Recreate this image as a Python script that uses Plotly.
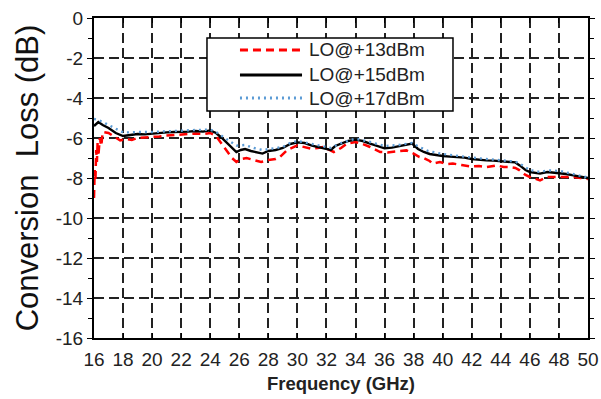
import plotly.graph_objects as go

# Data
f13 = [16.0, 16.05, 16.1, 16.15, 16.2, 16.25, 16.3, 16.4, 16.5, 16.6, 17.0, 17.4, 17.8, 18.2, 18.6, 19.0, 19.5, 20.0, 20.5, 21.0, 21.5, 22.0, 22.5, 23.0, 23.5, 24.0, 24.4, 24.8, 25.2, 25.5, 25.8, 26.1, 26.5, 27.0, 27.5, 28.0, 28.5, 28.8, 29.3, 30.0, 30.5, 30.9, 31.4, 31.8, 32.2, 32.5, 33.0, 33.4, 34.0, 34.5, 35.0, 35.7, 36.2, 36.6, 37.1, 37.5, 38.0, 38.4, 38.7, 39.1, 39.3, 39.8, 40.3, 40.7, 41.3, 41.9, 42.5, 43.0, 43.7, 44.2, 44.6, 45.0, 45.3, 45.7, 46.0, 46.4, 46.7, 47.2, 47.6, 48.1, 48.6, 49.0, 49.5, 50.0]
cl13 = [-9.0, -7.6, -8.1, -6.6, -7.2, -6.2, -6.9, -6.0, -6.4, -5.7, -5.75, -5.95, -6.12, -6.05, -6.1, -6.0, -5.98, -5.95, -5.92, -5.88, -5.85, -5.8, -5.8, -5.78, -5.8, -5.75, -5.9, -6.3, -6.7, -7.0, -7.2, -7.05, -7.0, -7.1, -7.2, -7.1, -7.05, -6.95, -6.6, -6.37, -6.45, -6.53, -6.5, -6.45, -6.6, -6.7, -6.5, -6.28, -6.2, -6.3, -6.45, -6.7, -6.72, -6.7, -6.65, -6.62, -6.78, -6.95, -7.0, -7.15, -7.28, -7.2, -7.3, -7.28, -7.35, -7.42, -7.4, -7.45, -7.37, -7.45, -7.45, -7.5, -7.62, -7.85, -7.95, -8.05, -8.12, -7.95, -7.95, -7.92, -7.95, -7.95, -8.0, -8.05]

f15 = [16.0, 16.3, 16.6, 17.0, 17.5, 18.0, 18.5, 19.0, 19.5, 20.0, 20.5, 21.0, 21.5, 22.0, 22.5, 23.0, 23.5, 24.0, 24.4, 24.8, 25.1, 25.5, 25.8, 26.1, 26.4, 26.8, 27.2, 27.6, 28.0, 28.5, 29.0, 29.5, 30.0, 30.5, 31.0, 31.5, 32.0, 32.3, 32.6, 33.0, 33.5, 34.0, 34.5, 35.0, 35.5, 36.0, 36.5, 37.0, 37.5, 37.9, 38.3, 38.7, 39.1, 39.5, 40.0, 40.5, 41.0, 41.5, 42.0, 42.5, 43.0, 43.5, 44.0, 44.5, 45.0, 45.3, 45.7, 46.0, 46.4, 46.7, 47.2, 47.6, 48.1, 48.5, 49.0, 49.5, 50.0]
cl15 = [-5.4, -5.2, -5.35, -5.5, -5.75, -5.9, -5.85, -5.8, -5.82, -5.78, -5.75, -5.72, -5.7, -5.7, -5.68, -5.65, -5.68, -5.62, -5.75, -6.0, -6.2, -6.5, -6.7, -6.6, -6.55, -6.65, -6.7, -6.78, -6.65, -6.6, -6.5, -6.3, -6.22, -6.25, -6.38, -6.45, -6.55, -6.6, -6.4, -6.3, -6.15, -6.08, -6.15, -6.28, -6.4, -6.52, -6.48, -6.42, -6.35, -6.28, -6.55, -6.7, -6.8, -6.85, -6.9, -6.93, -6.95, -6.98, -7.05, -7.1, -7.12, -7.13, -7.15, -7.18, -7.22, -7.37, -7.6, -7.7, -7.75, -7.78, -7.7, -7.72, -7.75, -7.8, -7.87, -7.93, -8.0]

f17 = [16.0, 16.3, 16.6, 17.0, 17.5, 18.0, 18.5, 19.0, 20.0, 21.0, 22.0, 23.0, 24.0, 24.4, 24.8, 25.1, 25.5, 25.8, 26.4, 27.0, 27.6, 28.0, 29.0, 29.5, 30.0, 31.0, 32.0, 32.3, 33.0, 34.0, 35.0, 36.0, 37.0, 37.9, 38.4, 39.0, 40.0, 40.7, 42.0, 43.0, 44.0, 45.0, 45.3, 46.0, 46.7, 47.2, 48.1, 49.0, 49.8, 50.0]
cl17 = [-5.05, -5.1, -5.2, -5.35, -5.55, -5.72, -5.72, -5.7, -5.7, -5.66, -5.62, -5.6, -5.58, -5.7, -5.9, -6.05, -6.25, -6.38, -6.35, -6.5, -6.6, -6.55, -6.45, -6.25, -6.15, -6.3, -6.45, -6.5, -6.25, -6.03, -6.2, -6.4, -6.35, -6.25, -6.45, -6.65, -6.8, -6.87, -6.98, -7.05, -7.12, -7.18, -7.28, -7.6, -7.7, -7.62, -7.65, -7.8, -7.93, -7.98]

names = ["LO@+13dBm", "LO@+15dBm", "LO@+17dBm"]
x_ticks = list(range(16, 51, 2))
y_ticks = list(range(0, -17, -2))

styles = [dict(color="#FF0000", width=2.5, dash="8px,5px"),
          dict(color="#000000", width=2.4),
          dict(color="#5B9BD5", width=2.4, dash="2px,4px")]

fig = go.Figure()
for fx, fy, nm, st in zip([f13, f15, f17], [cl13, cl15, cl17], names, styles):
    fig.add_trace(go.Scatter(x=fx, y=fy, mode="lines", name=nm, line=st))

font_family = "Liberation Sans, Arial, sans-serif"

# Legend drawn as a boxed key (paper coordinates)
box = dict(x0=0.2287, x1=0.7267, y0=0.7094, y1=0.9375)
rows = [0.900, 0.822, 0.750]
shapes = [dict(type="rect", xref="paper", yref="paper", layer="above",
               fillcolor="white", line=dict(color="black", width=1.5), **box)]
annotations = []
for nm, st, ry in zip(names, styles, rows):
    shapes.append(dict(type="line", xref="paper", yref="paper", layer="above",
                       x0=0.2955, x1=0.4211, y0=ry, y1=ry,
                       line=dict(color=st["color"], width=st["width"] + 0.5,
                                 dash=st.get("dash", "solid"))))
    annotations.append(dict(xref="paper", yref="paper", x=0.4312, y=ry,
                            xanchor="left", yanchor="middle", text=nm,
                            showarrow=False,
                            font=dict(size=19, color="#222222", family=font_family)))

fig.update_layout(
    width=601, height=399,
    margin=dict(l=94, r=13, t=18, b=61),
    paper_bgcolor="white", plot_bgcolor="white",
    font=dict(family=font_family, color="#222222", size=18),
    showlegend=False,
    shapes=shapes, annotations=annotations,
)
fig.update_xaxes(
    range=[16, 50], tickvals=x_ticks, ticktext=[str(v) for v in x_ticks],
    showline=True, linecolor="black", linewidth=2, mirror="ticks",
    ticks="inside", ticklen=5, tickcolor="black", tickwidth=1,
    showgrid=True, gridcolor="#222222", gridwidth=1.5, griddash="10px,5px",
    zeroline=False, tickfont=dict(size=19), ticklabelstandoff=3,
    title=dict(text="<b>Frequency (GHz)</b>", font=dict(size=18.5), standoff=8),
    automargin=False,
)
fig.update_yaxes(
    range=[-16, 0], tickvals=y_ticks, ticktext=[str(v) for v in y_ticks],
    showline=True, linecolor="black", linewidth=2, mirror="ticks",
    ticks="outside", ticklen=5, tickcolor="black", tickwidth=1,
    minor=dict(dtick=1, ticks="outside", ticklen=4, tickcolor="black", showgrid=False),
    showgrid=True, gridcolor="#222222", gridwidth=1.5, griddash="10px,5px",
    zeroline=False, tickfont=dict(size=19),
    title=dict(text="Conversion  Loss (dB)", font=dict(size=31, color="#111111"), standoff=8),
    automargin=False,
)

fig.write_html("out.html")
